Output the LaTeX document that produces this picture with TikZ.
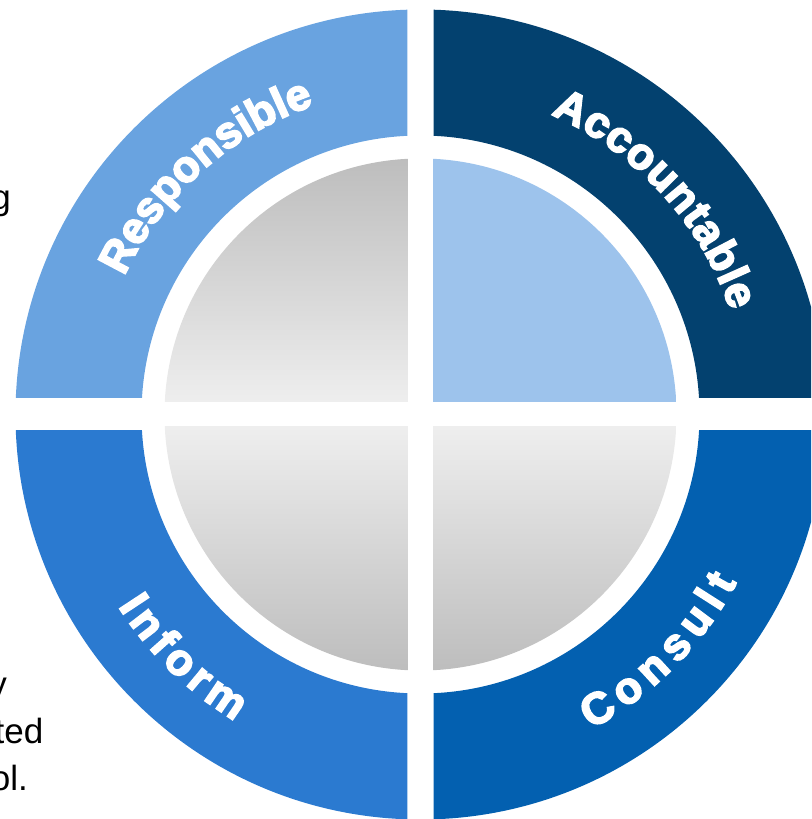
\documentclass[tikz,border=0pt]{standalone}
\usepackage{fontspec}
\setmainfont{Liberation Sans}
\newfontfamily\ringfont[FakeBold=4]{Liberation Sans Bold}
\usepackage{tikz}
\usetikzlibrary{decorations.text}

\definecolor{respblue}{HTML}{69A3E0}
\definecolor{acctblue}{HTML}{03416F}
\definecolor{infoblue}{HTML}{2B7AD0}
\definecolor{consblue}{HTML}{0360B0}
\definecolor{diskblue}{HTML}{9DC3EC}
\definecolor{shadedark}{HTML}{BDBDBD}
\definecolor{shadelight}{HTML}{EEEEEE}

\def\outerR{405}
\def\innerR{279}
\def\diskR{256}

\begin{document}
\begin{tikzpicture}[x=1pt,y=1pt]
\tikzset{ringlabel/.style={decorate, decoration={text along path, text align={fit to path},
  text={|\ringfont\fontsize{44}{44}\selectfont\color{white}|#1}}}}
\tikzset{sidetext/.style={anchor=base east, inner sep=0pt, font=\fontsize{35}{40}\selectfont}}
\useasboundingbox (-420.5,-404.5) rectangle (390.5,414.5);
\clip (-420.5,-404.5) rectangle (390.5,414.5);

% text running in from the left
\node[sidetext] (noteg) at (-409.5,204.5) {g};
\node[sidetext] (notey) at (-413.5,-281.5) {y};
\node[sidetext] (noteted) at (-377,-328.5) {ted};
\node[sidetext] (noteol) at (-392.5,-375.5) {ol.};

% outer ring, one quarter per role
\foreach \sx/\sy/\col in {-1/1/respblue, 1/1/acctblue, -1/-1/infoblue, 1/-1/consblue}{
  \begin{scope}
    \clip (\sx*13,\sy*16.5) rectangle (\sx*500,\sy*500);
    \fill[\col, even odd rule] (0,0) circle[radius=\outerR] circle[radius=\innerR];
  \end{scope}
}

% inner disk
\begin{scope}
  \clip (0,0) circle[radius=\diskR];
  \fill[diskblue] (12.5,12.5) rectangle (\diskR,\diskR);
  \shade[top color=shadedark, bottom color=shadelight] (-12.5,12.5) rectangle (-\diskR,\diskR);
  \shade[top color=shadelight, bottom color=shadedark] (-12.5,-12.5) rectangle (-\diskR,-\diskR);
  \shade[top color=shadelight, bottom color=shadedark] (12.5,-12.5) rectangle (\diskR,-\diskR);
\end{scope}

% labels along the ring
\path[ringlabel=Responsible] (155:327) arc[start angle=155, end angle=109, radius=327];
\path[ringlabel=Accountable] (66.5:327) arc[start angle=66.5, end angle=18.5, radius=327];
\path[ringlabel=Inform] (212.4:358) arc[start angle=212.4, end angle=238.8, radius=358];
\path[ringlabel=Consult] (298.5:358) arc[start angle=298.5, end angle=332, radius=358];
\end{tikzpicture}
\end{document}
